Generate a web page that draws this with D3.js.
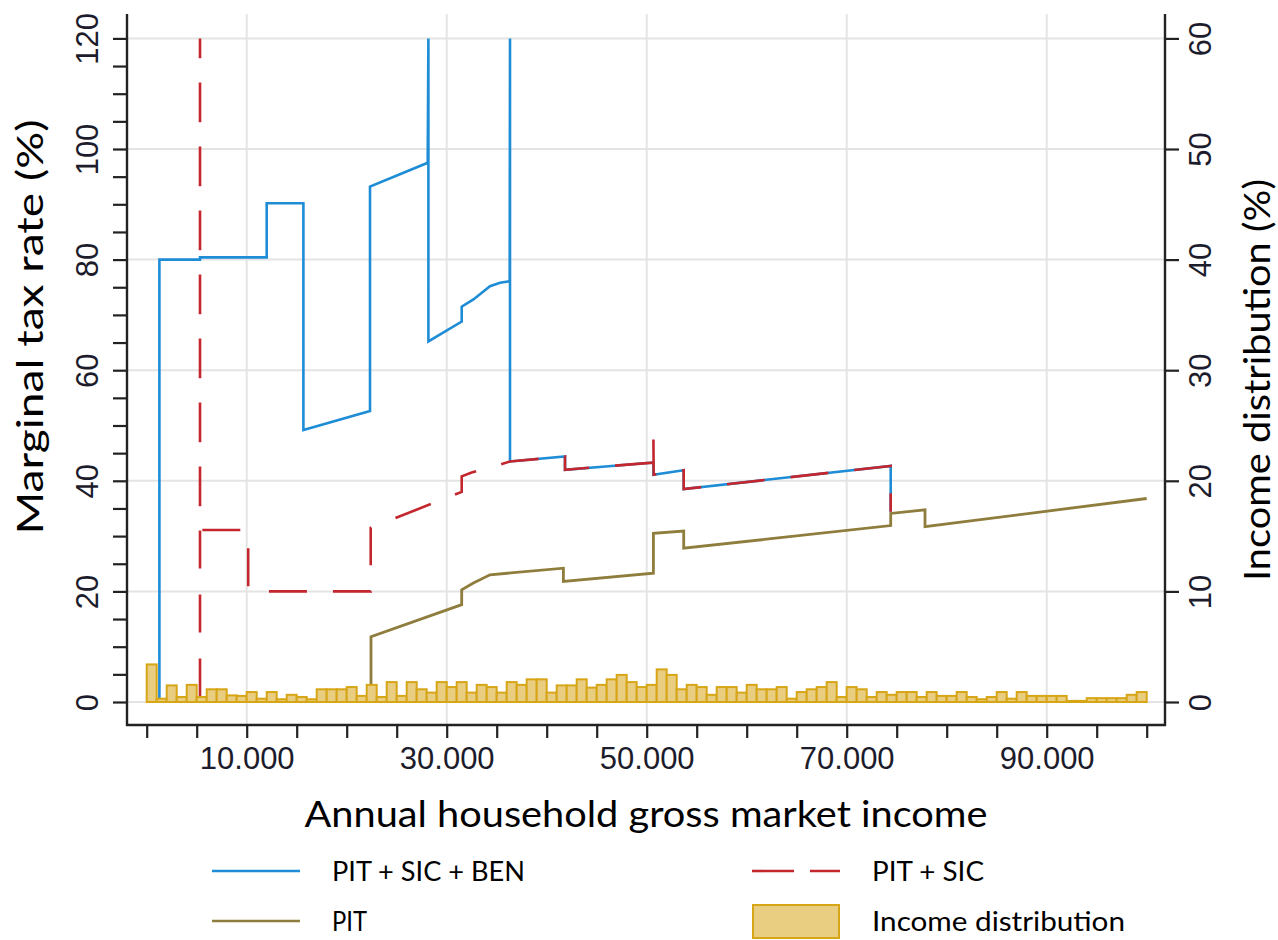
<!DOCTYPE html>
<html>
<head>
<meta charset="utf-8">
<script src="https://cdn.jsdelivr.net/npm/d3@7"></script>
<style>
    body { margin: 0; background: #fff; }
    svg { display: block; }
</style>
</head>
<body>
<div id="chart"></div>
<script>
// income in euro, rates in %
const benSeries = [
    [1270, 0], [1270, 80], [5330, 80], [5330, 80.4], [12000, 80.4],
    [12000, 90.2], [15670, 90.2], [15670, 49.2], [22330, 52.6], [22330, 93.2],
    [28100, 97.5], [28170, 120], [28170, 65.2], [31500, 68.8], [31500, 71.5],
    [32670, 72.8], [34330, 75.2], [35330, 75.8], [36300, 76.1], [36330, 120],
    [36330, 43.5], [41830, 44.4], [41830, 42.0], [50670, 43.3], [50670, 41.1],
    [53700, 41.9], [53700, 38.5], [74400, 42.7], [74400, 34.4]
];
const sicSeries = [
    [5330, 1], [5330, 120], [5330, 31.1], [10150, 31.1], [10150, 20],
    [22400, 20], [22400, 31.5], [31500, 38.0], [31500, 40.8], [32500, 41.5],
    [35300, 42.9], [36330, 43.5], [41830, 44.4], [41830, 42.0], [50670, 43.3],
    [50670, 47.7], [50700, 41.1], [53700, 41.9], [53700, 38.5], [74400, 42.7],
    [74400, 34.4]
];
const pitSeries = [
    [22430, 0], [22430, 11.8], [31500, 17.6], [31500, 20.3], [32670, 21.5],
    [34330, 23.0], [41670, 24.2], [41670, 21.8], [50670, 23.3], [50670, 30.5],
    [53700, 30.9], [53700, 27.8], [74400, 31.9], [74400, 34.1], [77830, 34.75],
    [77830, 31.7], [100000, 36.8]
];
// share of households per 1.000 euro bin, %
const binWidth = 1000;
const incomeShares = [
    3.4, 0.3, 1.5, 0.45, 1.55, 0.45, 1.15, 1.15, 0.6, 0.55, 0.9, 0.3, 0.9, 0.25, 0.65, 0.45, 0.25, 1.15, 1.15, 1.15, 1.35, 0.55, 1.55, 0.45, 1.8,
    0.55, 1.8, 1.15, 0.85, 1.8, 1.35, 1.8, 0.85, 1.55, 1.35, 0.85, 1.8, 1.55, 2.05, 2.05, 0.85, 1.5, 1.5, 2.05, 1.3, 1.55, 2.05, 2.45, 1.8, 1.35,
    1.55, 2.95, 2.45, 1.15, 1.55, 1.35, 0.65, 1.35, 1.35, 0.85, 1.55, 1.15, 1.15, 1.35, 0.3, 0.9, 1.15, 1.35, 1.8, 0.45, 1.35, 1.15, 0.45, 0.9, 0.65,
    0.9, 0.9, 0.45, 0.9, 0.55, 0.55, 0.9, 0.45, 0.25, 0.45, 0.9, 0.3, 0.9, 0.55, 0.55, 0.55, 0.55, 0.1, 0.1, 0.35, 0.35, 0.35, 0.35, 0.65, 0.9
];
const xTicks = d3.range(0, 100001, 5000);
const xLabels = [10000, 30000, 50000, 70000, 90000];
const leftTicks = d3.range(0, 121, 5);
const leftLabels = [0, 20, 40, 60, 80, 100, 120];
const rightTicks = [0, 10, 20, 30, 40, 50, 60];

const legendItems = [
    {label: 'PIT + SIC + BEN', kind: 'line', color: '#1e8dd6', len: 193},
    {label: 'PIT + SIC', kind: 'dash', color: '#c4262e', len: 112},
    {label: 'PIT', kind: 'line', color: '#8e7d3c', len: 35},
    {label: 'Income distribution', kind: 'box', len: 253}
];

const width = 1278;
const height = 940;
const frame = {left: 127, right: 1165, top: 14, bottom: 725};
const tickFont = '"Liberation Sans", Arial, sans-serif';
const titleFont = 'Lato, "Open Sans", sans-serif';
const axisColor = '#222';
const gridColor = '#e4e4e4';

const x = d3.scaleLinear().domain([0, 100000]).range([146.7, 1146.7]);
const yLeft = d3.scaleLinear().domain([0, 120]).range([702, 38.4]);
const yRight = d3.scaleLinear().domain([0, 60]).range([702, 38.4]);

const svg = d3.select('#chart').append('svg')
    .attr('width', width)
    .attr('height', height);

function drawGrid() {
    const g = svg.append('g').classed('grid', true);
    g.selectAll('.hgrid').data(leftLabels).enter()
      .append('line')
        .attr('x1', frame.left).attr('x2', frame.right)
        .attr('y1', d => yLeft(d)).attr('y2', d => yLeft(d))
        .style('stroke', gridColor).style('stroke-width', 2);
    g.selectAll('.vgrid').data(xLabels).enter()
      .append('line')
        .attr('y1', frame.top).attr('y2', frame.bottom)
        .attr('x1', d => x(d)).attr('x2', d => x(d))
        .style('stroke', gridColor).style('stroke-width', 2);
}

function drawLines() {
    const line = d3.line().x(d => x(d[0])).y(d => yLeft(d[1]));
    const g = svg.append('g').classed('lines', true);
    g.append('path').datum(benSeries)
        .attr('d', line)
        .style('fill', 'none').style('stroke', '#1e8dd6').style('stroke-width', 2.6);
    g.append('path').datum(sicSeries)
        .attr('d', line)
        .style('fill', 'none').style('stroke', '#c4262e').style('stroke-width', 2.6)
        .style('stroke-dasharray', '38,26');
    g.append('path').datum(pitSeries)
        .attr('d', line)
        .style('fill', 'none').style('stroke', '#8e7d3c').style('stroke-width', 2.8);
}

function drawBars() {
    svg.append('g').classed('bars', true)
        .selectAll('rect').data(incomeShares).enter()
      .append('rect')
        .attr('x', (d, i) => x(i * binWidth))
        .attr('width', x(binWidth) - x(0))
        .attr('y', d => yRight(d))
        .attr('height', d => yRight(0) - yRight(d))
        .style('fill', '#e9cd80')
        .style('stroke', '#d7a617')
        .style('stroke-width', 2);
}

function drawAxes() {
    const bottom = svg.append('g')
        .attr('transform', `translate(0, ${frame.bottom})`)
        .call(d3.axisBottom(x).tickValues(xTicks).tickSize(13)
            .tickFormat(d => xLabels.includes(d) ? d3.format(',')(d).replace(/,/g, '.') : ''));
    bottom.select('.domain').remove();
    bottom.selectAll('.tick line').style('stroke', axisColor).style('stroke-width', 2.2);
    bottom.selectAll('.tick text')
        .attr('y', 44).attr('dy', 0)
        .style('font-family', tickFont).style('font-size', '31px').style('fill', '#1c1c2c');

    const left = svg.append('g')
        .attr('transform', `translate(${frame.left}, 0)`)
        .call(d3.axisLeft(yLeft).tickValues(leftTicks).tickSize(14)
            .tickFormat(d => leftLabels.includes(d) ? d : ''));
    left.select('.domain').remove();
    left.selectAll('.tick line').style('stroke', axisColor).style('stroke-width', 2.2);
    left.selectAll('.tick text')
        .attr('x', 0).attr('dy', 0)
        .attr('transform', 'translate(-29, 0) rotate(-90)')
        .style('text-anchor', 'middle')
        .style('font-family', tickFont).style('font-size', '31px').style('fill', '#1c1c2c');

    const right = svg.append('g')
        .attr('transform', `translate(${frame.right}, 0)`)
        .call(d3.axisRight(yRight).tickValues(rightTicks).tickSize(14));
    right.select('.domain').remove();
    right.selectAll('.tick line').style('stroke', axisColor).style('stroke-width', 2.2);
    right.selectAll('.tick text')
        .attr('x', 0).attr('dy', 0)
        .attr('transform', 'translate(46, 0) rotate(-90)')
        .style('text-anchor', 'middle')
        .style('font-family', tickFont).style('font-size', '31px').style('fill', '#1c1c2c');

    // frame lines
    const frameLines = [
        [frame.left, frame.top, frame.left, frame.bottom + 1],
        [frame.right, frame.top, frame.right, frame.bottom + 1],
        [frame.left - 1, frame.bottom, frame.right + 1, frame.bottom]
    ];
    svg.append('g').selectAll('line').data(frameLines).enter()
      .append('line')
        .attr('x1', d => d[0]).attr('y1', d => d[1])
        .attr('x2', d => d[2]).attr('y2', d => d[3])
        .style('stroke', axisColor).style('stroke-width', 2.4);
}

function drawTitles() {
    svg.append('text')
        .attr('transform', 'translate(43, 327) rotate(-90)')
        .attr('text-anchor', 'middle')
        .attr('textLength', 415).attr('lengthAdjust', 'spacingAndGlyphs')
        .style('font-family', titleFont).style('font-size', '36px')
        .text('Marginal tax rate (%)');
    svg.append('text')
        .attr('transform', 'translate(1270, 380) rotate(-90)')
        .attr('text-anchor', 'middle')
        .attr('textLength', 402).attr('lengthAdjust', 'spacingAndGlyphs')
        .style('font-family', titleFont).style('font-size', '37px')
        .text('Income distribution (%)');
    svg.append('text')
        .attr('x', 646).attr('y', 827)
        .attr('text-anchor', 'middle')
        .attr('textLength', 683).attr('lengthAdjust', 'spacingAndGlyphs')
        .style('font-family', titleFont).style('font-size', '36px')
        .text('Annual household gross market income');
}

function drawLegend() {
    const cols = [212, 752];
    const rows = [871, 921];
    const items = svg.append('g').classed('legend', true)
        .selectAll('g').data(legendItems).enter()
      .append('g')
        .attr('transform', (d, i) => `translate(${cols[i % 2]}, ${rows[Math.floor(i / 2)]})`);

    items.filter(d => d.kind !== 'box')
      .append('line')
        .attr('x1', 0).attr('x2', 88).attr('y1', 0).attr('y2', 0)
        .style('stroke', d => d.color).style('stroke-width', 2.6)
        .style('stroke-dasharray', d => d.kind === 'dash' ? '42,16' : null);

    items.filter(d => d.kind === 'box')
      .append('rect')
        .attr('x', 1).attr('y', -16).attr('width', 86).attr('height', 33)
        .style('fill', '#e9cd80').style('stroke', '#d7a617').style('stroke-width', 2);

    items.append('text')
        .attr('x', 120)
        .attr('y', 10)
        .attr('textLength', d => d.len).attr('lengthAdjust', 'spacingAndGlyphs')
        .style('font-family', titleFont).style('font-size', '26px')
        .text(d => d.label);
}

drawGrid();
drawLines();
drawBars();
drawAxes();
drawTitles();
drawLegend();
</script>
</body>
</html>
